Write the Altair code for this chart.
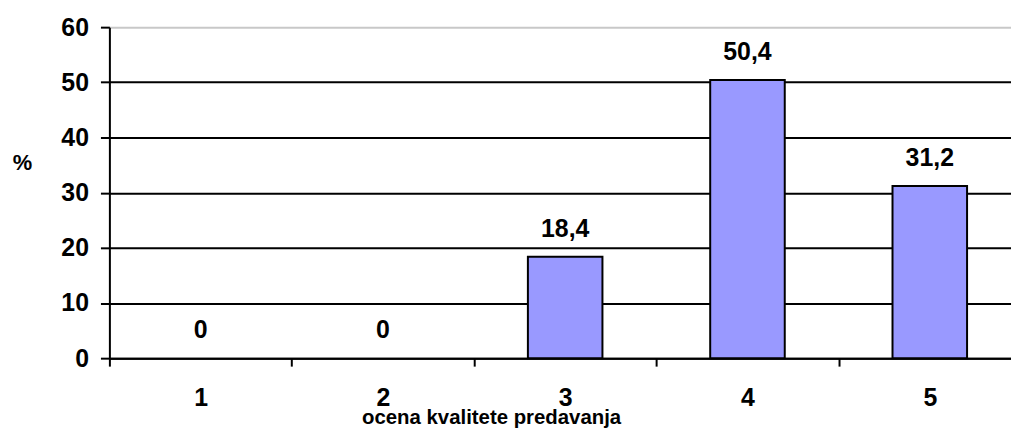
import altair as alt
import pandas as pd

categories = ["1", "2", "3", "4", "5"]
values = [0, 0, 18.4, 50.4, 31.2]
value_labels = ["0", "0", "18,4", "50,4", "31,2"]
y_ticks = [0, 10, 20, 30, 40, 50, 60]

df = pd.DataFrame({"ocena": categories, "pct": values, "label": value_labels})

FONT = "Liberation Sans"

x_enc = alt.X(
    "ocena:N",
    sort=categories,
    scale=alt.Scale(range=[0, 917], paddingInner=0, paddingOuter=0),
    axis=alt.Axis(
        title="ocena kvalitete predavanja",
        titleFont=FONT, titleFontSize=20.5, titleFontWeight="bold", titleColor="black",
        titleX=384, titleY=66, titleAnchor="middle", titleAlign="center", titleBaseline="alphabetic",
        labelFont=FONT, labelFontSize=25, labelFontWeight="bold", labelColor="black",
        labelAngle=0, labelPadding=20,
        tickBand="extent", tickSize=8, tickWidth=2, tickColor="black",
        domainColor="black", domainWidth=2, grid=False,
    ),
)

y_enc = alt.Y(
    "pct:Q",
    scale=alt.Scale(domain=[0, 60], nice=False),
    axis=alt.Axis(
        values=y_ticks, title="%",
        titleFont=FONT, titleFontSize=22, titleFontWeight="bold", titleColor="black",
        titleAngle=0, titleX=-88, titleY=136, titleAlign="center", titleBaseline="middle",
        labelFont=FONT, labelFontSize=25, labelFontWeight="bold", labelColor="black",
        labelPadding=12, tickSize=9, tickWidth=2, tickColor="black",
        domainColor="black", domainWidth=2,
        grid=True, gridWidth=2,
        gridColor={"condition": {"test": "datum.value == 60", "value": "#c8c8c8"}, "value": "black"},
    ),
)

bars = alt.Chart(df).transform_filter("datum.pct > 0").mark_bar(
    size=75, color="#9999FF", stroke="black", strokeWidth=2
).encode(x=x_enc, y=y_enc)

texts = alt.Chart(df).mark_text(
    font=FONT, fontSize=25, fontWeight="bold", color="black", dy=-20, baseline="alphabetic"
).encode(
    x=alt.X("ocena:N", sort=categories),
    y=alt.Y("pct:Q"),
    text="label:N",
)

chart = (
    alt.layer(bars, texts)
    .properties(
        width=907, height=333,
        autosize=alt.AutoSizeParams(type="none"),
        padding={"left": 102, "top": 18, "right": 0, "bottom": 72},
        background="white",
    )
    .configure_view(stroke=None)
)

chart.save("out.html", embed_options={"renderer": "svg", "actions": False})
